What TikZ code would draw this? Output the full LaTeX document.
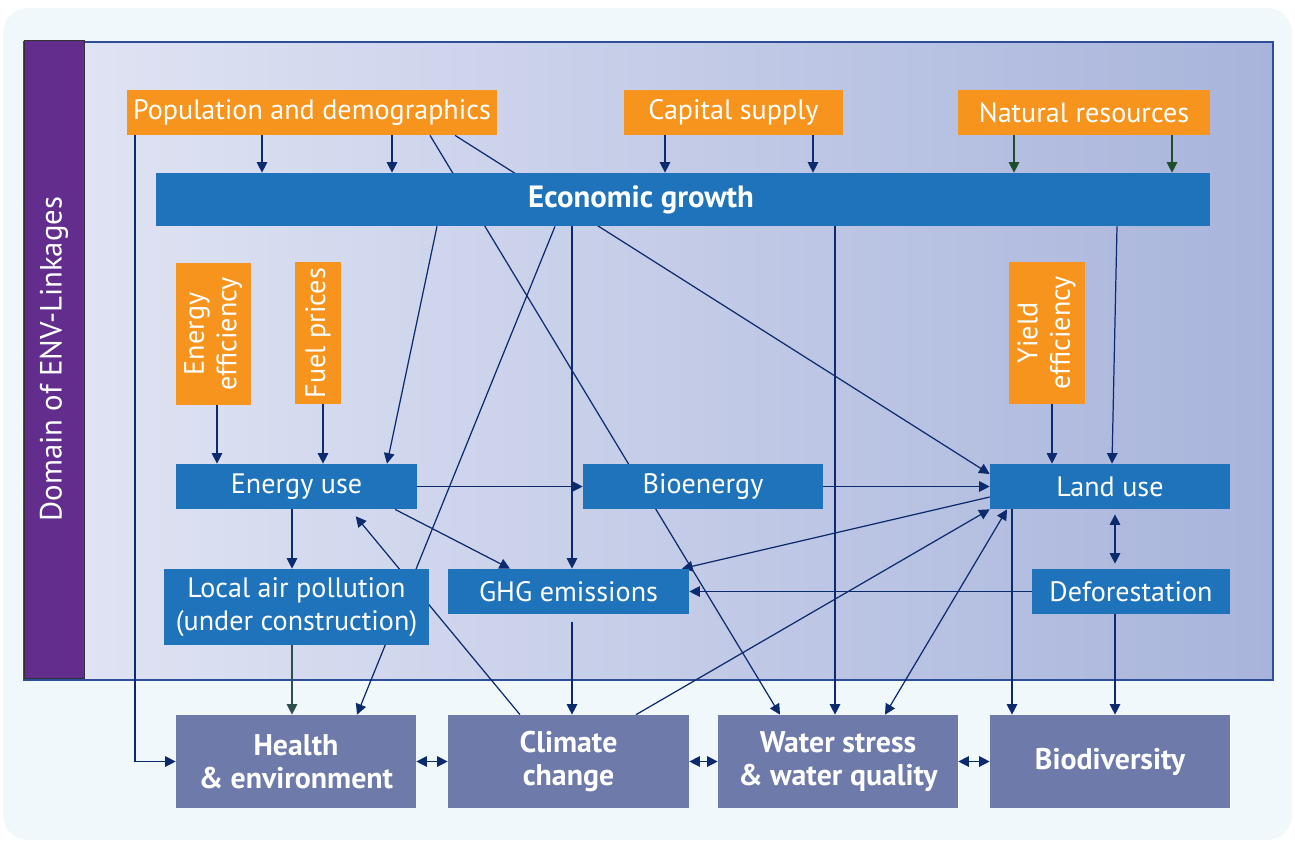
\documentclass[tikz,border=0pt]{standalone}
\usepackage{fontspec}
\setmainfont{PT Sans}
\usepackage{graphicx}
\usetikzlibrary{arrows.meta}
\pgfdeclarelayer{back}
\pgfdeclarelayer{links}
\pgfsetlayers{back,links,main}
\definecolor{drvorange}{HTML}{F7941D}
\definecolor{mdlblue}{HTML}{1F73BA}
\definecolor{impgrey}{HTML}{6D7AAA}
\definecolor{dompurple}{HTML}{622D8C}
\definecolor{arrnavy}{HTML}{0C2A6E}
\definecolor{arrgreen}{HTML}{1E4D2B}
\definecolor{arrslate}{HTML}{2F4F4F}
\definecolor{pagebg}{HTML}{F1F8FC}
\definecolor{gradl}{HTML}{DFE3F3}
\definecolor{gradr}{HTML}{A8B4DB}
\definecolor{framec}{HTML}{2E4E9A}
\begin{document}
\begin{tikzpicture}[x=0.02cm, y=-0.02cm,
  every node/.style={inner sep=0pt, text=white, align=center, font=\fontsize{16}{18.5}\selectfont},
  drv/.style={fill=drvorange, minimum height=0.9cm},
  mdl/.style={fill=mdlblue, minimum height=0.9cm},
  imp/.style={fill=impgrey, minimum width=4.8cm, minimum height=1.86cm, font=\fontsize{17}{18.5}\selectfont\bfseries},
  arr/.style={-{Triangle[length=6pt,width=6pt]}, draw=arrnavy, line width=0.7pt},
  darr/.style={{Triangle[length=6pt,width=6pt]}-{Triangle[length=6pt,width=6pt]}, draw=arrnavy, line width=0.7pt}]
\useasboundingbox (0,0) rectangle (1295,843);

% background and domain frame
\begin{pgfonlayer}{back}
\fill[pagebg, rounded corners=0.5cm] (3,8) rectangle (1292,840);
\shade[left color=gradl, right color=gradr] (84,42) rectangle (1273,680);
\draw[framec, line width=0.9pt] (24,42) rectangle (1273,680);
\end{pgfonlayer}
\node[fill=dompurple, draw=black!80, minimum width=1.2cm, minimum height=12.76cm, font=\fontsize{17.5}{20}\selectfont] (dom) at (54,359) {\rotatebox{90}{Domain of ENV-Linkages}};

% drivers
\node[drv, minimum width=7.4cm] (pop) at (312,112.5) {Population and demographics};
\node[drv, minimum width=4.38cm] (cap) at (733.5,112.5) {Capital supply};
\node[drv, minimum width=5.04cm] (nat) at (1084,112.5) {Natural resources};
\node[drv, minimum width=1.5cm, minimum height=2.84cm] (ee) at (213.5,334) {\rotatebox{90}{\begin{tabular}{@{}c@{}}Energy\\efficiency\end{tabular}}};
\node[drv, minimum width=0.92cm, minimum height=2.84cm] (fp) at (318,333) {\rotatebox{90}{Fuel prices}};
\node[drv, minimum width=1.52cm, minimum height=2.84cm] (ye) at (1047,333) {\rotatebox{90}{\begin{tabular}{@{}c@{}}Yield\\efficiency\end{tabular}}};

% modules
\node[mdl, minimum width=21.08cm, minimum height=1.06cm,
  label={[xshift=-0.84cm, text=white, font=\fontsize{17.5}{20}\selectfont\bfseries]center:Economic growth}] (econ) at (683,199.5) {};
\node[mdl, minimum width=4.82cm] (enu) at (296.5,486.5) {Energy use};
\node[mdl, minimum width=4.8cm] (bio) at (703,486.5) {Bioenergy};
\node[mdl, minimum width=4.8cm] (land) at (1110,486.5) {Land use};
\node[mdl, minimum width=5.3cm, minimum height=1.52cm] (lap) at (296.5,607) {Local air pollution\\(under construction)};
\node[mdl, minimum width=4.82cm] (ghg) at (568.5,591.5) {GHG emissions};
\node[mdl, minimum width=3.96cm] (defo) at (1131,591.5) {Deforestation};

% impacts
\node[imp] (hea) at (296,761.5) {Health\\\& environment};
\node[imp, minimum width=4.82cm] (cli) at (568.5,761.5) {Climate\\change};
\node[imp] (wat) at (838,761.5) {Water stress\\\& water quality};
\node[imp] (bdv) at (1110,761.5) {Biodiversity};

\begin{pgfonlayer}{links}
\foreach \x in {262,392}
  \draw[arr] (pop.south -| \x,0) -- (econ.north -| \x,0);
\foreach \x in {665,813}
  \draw[arr] (cap.south -| \x,0) -- (econ.north -| \x,0);
\foreach \x in {1014,1172}
  \draw[arr, draw=arrgreen] (nat.south -| \x,0) -- (econ.north -| \x,0);
\draw[arr] (pop.south -| 135,0) |- (hea.west);
\draw[arr] (pop.south -| 430,0) -- (wat.north -| 780,0);
\draw[arr] (pop.south -| 455,0) -- (land.west |- 0,474);
\draw[arr] (econ.south -| 437,0) -- (enu.north -| 387,0);
\draw[arr] (econ.south -| 555,0) -- (hea.north -| 357,0);
\draw[arr] (econ.south -| 572,0) -- (ghg.north -| 572,0);
\draw[arr] (econ.south -| 835,0) -- (wat.north -| 835,0);
\draw[arr] (econ.south -| 1117,0) -- (land.north -| 1112,0);
\draw[arr] (ee.south -| 217,0) -- (enu.north -| 217,0);
\draw[arr] (fp.south -| 323,0) -- (enu.north -| 323,0);
\draw[arr] (ye.south -| 1052,0) -- (land.north -| 1052,0);
\draw[arr] (enu.east) -- (bio.west);
\draw[arr] (bio.east) -- (land.west);
\draw[arr] (enu.south -| 292,0) -- (lap.north -| 292,0);
\draw[arr] (enu.south -| 395,0) -- (ghg.north -| 510,0);
\draw[arr, shorten >=0.18cm] (cli.north -| 520,0) -- (enu.south -| 350,0);
\draw[arr] (land.west |- 0,497) -- (ghg.north -| 682,0);
\draw[arr] (defo.west) -- (ghg.east);
\draw[darr, shorten <=0.1cm, shorten >=0.1cm] (land.south -| 1115,0) -- (defo.north -| 1115,0);
\draw[arr] (cli.north -| 636,0) -- (land.south west);
\draw[darr] (wat.north -| 885,0) -- (land.south -| 1007,0);
\draw[arr] (land.south -| 1012,0) -- (bdv.north -| 1012,0);
\draw[arr] (defo.south -| 1115,0) -- (bdv.north -| 1115,0);
\draw[arr, shorten <=0.16cm] (ghg.south -| 572,0) -- (cli.north -| 572,0);
\draw[arr, draw=arrslate] (lap.south -| 292,0) -- (hea.north -| 292,0);
\draw[darr] (hea.east) -- (cli.west);
\draw[darr] (cli.east) -- (wat.west);
\draw[darr] (wat.east) -- (bdv.west);
\end{pgfonlayer}
\end{tikzpicture}
\end{document}
